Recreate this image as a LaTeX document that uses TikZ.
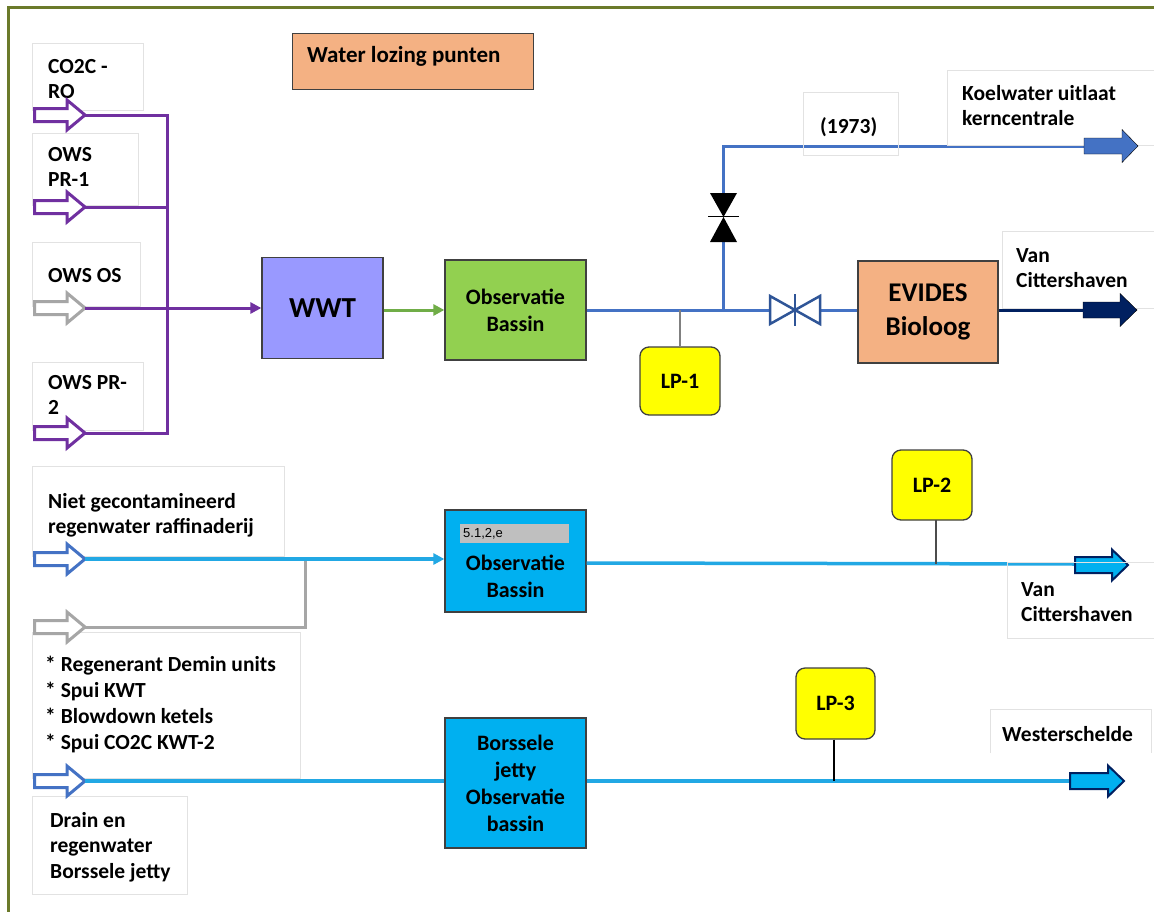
\documentclass[tikz,border=0pt]{standalone}
\usepackage{fontspec}
\setmainfont{Carlito}
\newfontfamily\arialf{Liberation Sans}
\usetikzlibrary{arrows.meta}
\definecolor{salmon}{HTML}{F4B183}
\definecolor{lav}{HTML}{9999FF}
\definecolor{grbox}{HTML}{92D050}
\definecolor{cybox}{HTML}{00B0F0}
\definecolor{lpyel}{HTML}{FFFF00}
\definecolor{bord}{HTML}{404040}
\definecolor{purp}{HTML}{7030A0}
\definecolor{blu}{HTML}{4472C4}
\definecolor{navy}{HTML}{002060}
\definecolor{valv}{HTML}{2F5597}
\definecolor{grl}{HTML}{70AD47}
\definecolor{cyl}{HTML}{22A8E4}
\definecolor{lblg}{HTML}{E2E2E2}
\definecolor{gry}{HTML}{A6A6A6}
\definecolor{olive}{HTML}{6B7A2A}
\definecolor{tagg}{HTML}{BFBFBF}
\newcommand{\blockarr}[8]{%
  \draw[#1] (#3,#5-#6) -- (#4-#8,#5-#6) -- (#4-#8,#5-#7) -- (#4,#5) -- (#4-#8,#5+#7) -- (#4-#8,#5+#6) -- (#3,#5+#6) -- cycle;
  \coordinate (#2) at (#4,#5);}
\begin{document}
\begin{tikzpicture}[x=1pt,y=-1pt,
  box/.style={draw=bord, line width=1.3pt, inner sep=0pt, align=center, font=\bfseries\fontsize{22}{27}\selectfont},
  lblbox/.style={draw=lblg, line width=0.8pt},
  lbltext/.style={anchor=north west, inner sep=0pt, align=left, font=\bfseries\fontsize{21.5}{25.5}\selectfont},
  lpbox/.style={draw=bord, fill=lpyel, line width=1.3pt, rounded corners=9pt, inner sep=0pt, font=\bfseries\fontsize{22}{24}\selectfont},
  hpurp/.style={draw=purp, fill=white, line width=3pt},
  hgray/.style={draw=gry, fill=white, line width=3pt},
  hblue/.style={draw=blu, fill=white, line width=3pt},
  purpline/.style={purp, line width=3pt},
  bluline/.style={blu, line width=3pt},
  cyline/.style={cyl, line width=3.5pt},
  lpline/.style={line width=1.5pt},
  tri/.style={-{Triangle[length=11pt,width=11pt]}}
]
\useasboundingbox (0,0) rectangle (1154,911);
\fill[white] (0,0) rectangle (1154,911);
% frame
\draw[olive, line width=3pt] (1170,7) -- (8,7) -- (8,930);

% title
\node[box, fill=salmon, minimum width=241pt, minimum height=56pt, anchor=north west] (title) at (292,33) {};
\node[anchor=west, inner sep=0pt, font=\bfseries\fontsize{23}{26}\selectfont] (titlet) at (307,56) {Water lozing punten};

% left label boxes
\draw[lblbox] (32,43) rectangle (143,110);
\draw[lblbox] (32,133) rectangle (138,205);
\draw[lblbox] (32,242) rectangle (140,306);
\draw[lblbox] (32,362) rectangle (143,430);
\node[lbltext] (t1) at (48,59) {CO2C -\\RO};
\node[lbltext] (t2) at (48,147) {OWS\\PR-1};
\node[lbltext] (t3) at (48,268) {OWS OS};
\node[lbltext] (t4) at (48,375) {OWS PR-\\2};

% hollow arrows
\blockarr{hpurp}{a1}{34.5}{85}{115}{6.5}{15}{18}
\blockarr{hpurp}{a2}{34.5}{85}{207}{6.5}{15}{18}
\blockarr{hgray}{a3}{34.5}{85}{308}{6.5}{15}{18}
\blockarr{hpurp}{a4}{34.5}{85}{433}{6.5}{15}{18}

% main boxes
\node[box, fill=lav, minimum width=121pt, minimum height=101pt, font=\bfseries\fontsize{29}{32}\selectfont] (wwt) at (322.5,308) {WWT};
\node[box, fill=grbox, minimum width=141pt, minimum height=100pt] (obs1) at (515.5,310) {Observatie\\Bassin};
\node[box, fill=salmon, minimum width=140pt, minimum height=102pt, font=\bfseries\fontsize{27}{34}\selectfont] (evides) at (928,312) {EVIDES\\Bioloog};

% purple connectors
\coordinate (bt) at (167,115);
\coordinate (bb) at (167,433);
\draw[purpline] (a1) -- (bt) -- (bb) -- (a4);
\draw[purpline] (a2) -- (a2 -| bt);
\draw[purpline, tri] (a3) -- (wwt.west |- a3);
\draw[grl, line width=3pt, tri] (wwt.east |- obs1.west) -- (obs1.west);

% blue network
\coordinate (jn) at (723,310);
\coordinate (v1b) at (723,242);
\coordinate (v1t) at (723,193);
\coordinate (crn) at (723,146);
\coordinate (v2l) at (770,310);
\coordinate (v2r) at (820,310);
\draw[bluline] (obs1.east) -- (v2l);
\draw[bluline] (jn) -- (v1b);
\draw[bluline] (v1t) -- (crn) -- (1086,146);
\draw[bluline] (v2r) -- (evides.west |- v2r);
% valve 1 (vertical, black)
\fill[black] (710,193) -- (737,193) -- (723.5,217) -- cycle;
\fill[black] (710,242) -- (737,242) -- (723.5,217) -- cycle;
\draw[black, line width=1pt] (708,216) -- (739,216);
% valve 2 (horizontal, outline)
\draw[valv, fill=white, line width=2.5pt, line join=miter] (770,296) -- (795,310) -- (770,324) -- cycle;
\draw[valv, fill=white, line width=2.5pt, line join=miter] (820,296) -- (795,310) -- (820,324) -- cycle;
\draw[valv, line width=1.5pt] (795,294) -- (795,326);

% LP-1
\node[lpbox, minimum width=80pt, minimum height=68pt] (lp1) at (680,381) {LP-1};
\draw[gray, lpline] (lp1.north) -- (lp1.north |- jn);

% top right labels
\draw[lblbox] (803,92) rectangle (898,155);
\node[anchor=west, inner sep=0pt, font=\bfseries\fontsize{21.5}{24}\selectfont] (t1973) at (820,127) {(1973)};
\draw[lblbox] (1170,70) -- (947,70) -- (947,145) -- (1170,145);
\node[lbltext] (tkoel) at (962,85) {Koelwater uitlaat\\kerncentrale};
\draw[lblbox] (1170,231) -- (1002,231) -- (1002,308) -- (1170,308);
\node[lbltext] (tvan1) at (1016,248) {Van\\Cittershaven};
\blockarr{fill=blu}{k1}{1084}{1138}{146}{8}{16.5}{16}
\blockarr{fill=navy}{n1}{1083}{1137}{310}{8}{16.5}{17}
\draw[navy, line width=3pt] (evides.east |- v2r) -- (1085,310);

% lower left labels
\draw[lblbox] (32,466) rectangle (284,556);
\node[lbltext] (tniet) at (48,493) {Niet gecontamineerd\\regenwater raffinaderij};
\draw[lblbox] (32,632) rectangle (300,778);
\node[lbltext, font=\bfseries\fontsize{21.5}{26}\selectfont] (tbul) at (45,656) {* Regenerant Demin units\\* Spui KWT\\* Blowdown ketels\\* Spui CO2C KWT-2};
\draw[lblbox] (32,796) rectangle (187,894);
\node[lbltext] (tdrain) at (50,812) {Drain en\\regenwater\\Borssele jetty};

% lower boxes
\node[box, fill=cybox, minimum width=141pt, minimum height=102pt] (obs2) at (515.5,561) {};
\node[inner sep=0pt, align=center, font=\bfseries\fontsize{22}{27}\selectfont] (obs2t) at (515.5,576) {Observatie\\Bassin};
\node[fill=tagg, minimum width=109pt, minimum height=19pt, inner sep=0pt] (tag) at (514.5,533.5) {};
\node[anchor=west, inner sep=0pt, font=\arialf\fontsize{13}{15}\selectfont] (tagt) at (463,533.5) {5.1,2,e};
\node[box, fill=cybox, minimum width=141pt, minimum height=130pt] (bors) at (515.5,783) {Borssele\\jetty\\Observatie\\bassin};

% lower arrows
\blockarr{hblue}{a5}{34.5}{85}{559}{6.5}{15}{18}
\blockarr{hgray}{a6}{34.5}{85}{627}{6.5}{15}{18}
\blockarr{hblue}{a7}{34.5}{85}{781}{6.5}{15}{18}
\coordinate (gj) at (305,627);
\draw[gry, line width=3pt] (a6) -- (gj) -- (gj |- a5);
\draw[cyline, tri] (a5) -- (obs2.west |- a5);
\draw[cyline] (a7) -- (bors.west |- a7);

% line 2 out
\draw[cyline] (obs2.east |- 0,563) -- (1077,564);
\node[lpbox, minimum width=80pt, minimum height=70pt] (lp2) at (932,485) {LP-2};
\draw[black!70, lpline] (936,520) -- (936,564);
\blockarr{fill=cybox, draw=navy, line width=2pt}{l2}{1075}{1128}{565}{8}{15.5}{16}
\draw[lblbox] (1170,562) -- (1007,562) -- (1007,638) -- (1170,638);
\node[lbltext] (tvan2) at (1021,582) {Van\\Cittershaven};

% line 3 out
\draw[cyline] (bors.east |- a7) -- (1072,781);
\node[lpbox, minimum width=79pt, minimum height=71pt] (lp3) at (835.5,703.5) {LP-3};
\draw[black, lpline] (lp3.south -| 834,0) -- (834,781);
\blockarr{fill=cybox, draw=navy, line width=2pt}{l3}{1070}{1124}{781}{8}{15.5}{16}
\draw[lblbox] (990,753) -- (990,709) -- (1151,709) -- (1151,753);
\node[anchor=west, inner sep=0pt, font=\bfseries\fontsize{21.5}{24}\selectfont] (twest) at (1002,734) {Westerschelde};
\end{tikzpicture}
\end{document}
